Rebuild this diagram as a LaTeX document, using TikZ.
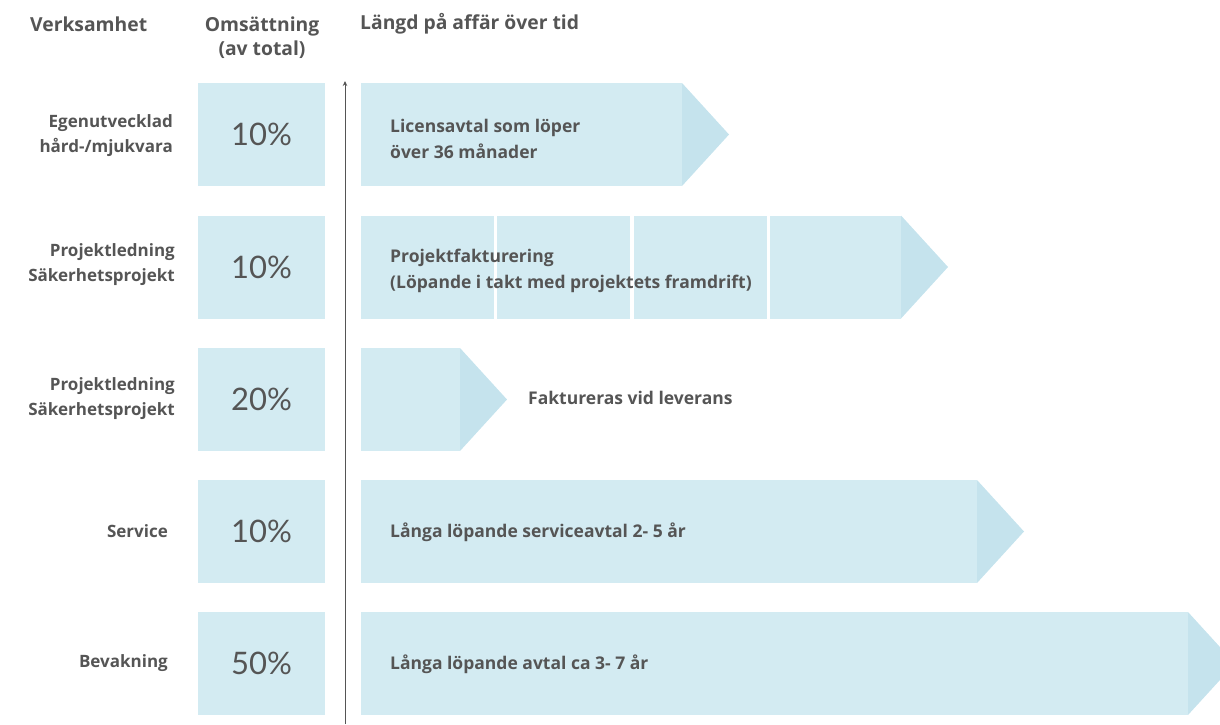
\documentclass[tikz,border=0pt]{standalone}
\usepackage{fontspec}
\setmainfont{Open Sans}
\newfontfamily\pctfont{Lato}
\usetikzlibrary{arrows.meta}
\definecolor{boxc}{HTML}{D3EBF2}
\definecolor{tipc}{HTML}{C5E3ED}
\definecolor{txt}{HTML}{555555}
\newcommand\mybar[3]{% y-center, x-end, name
  \fill[boxc] (361,#1-51.5) rectangle (#2,#1+51.5);
  \fill[tipc] (#2,#1-51.5) -- (#2+47,#1) -- (#2,#1+51.5) -- cycle;
  \coordinate (#3) at (#2,#1);}
\begin{document}
\begin{tikzpicture}[x=1pt,y=-1pt,
  hdr/.style={font=\bfseries\fontsize{19.3}{24}\selectfont, text=txt, inner sep=0pt},
  lbl/.style={font=\bfseries\fontsize{17}{25}\selectfont, text=txt, align=right, anchor=east, inner sep=0pt},
  pct/.style={fill=boxc, minimum width=127pt, minimum height=103pt, text=txt, font=\pctfont\fontsize{31}{31}\selectfont, inner sep=0pt},
  body/.style={font=\bfseries\fontsize{17.5}{26}\selectfont, text=txt, align=left, anchor=west, inner sep=0pt}]
\useasboundingbox (0,0) rectangle (1220,724);
\clip (0,0) rectangle (1220,724);
% headers
\node[hdr, anchor=west] (h1) at (30,24) {Verksamhet};
\node[hdr, align=center] (h2) at (262,38) {Omsättning\\(av total)};
\node[hdr, anchor=west] (h3) at (360,24) {Längd på affär över tid};
% percentage boxes
\node[pct] (p1) at (261.5,134.5) {10\%};
\node[pct] (p2) at (261.5,267) {10\%};
\node[pct] (p3) at (261.5,399.5) {20\%};
\node[pct] (p4) at (261.5,531.5) {10\%};
\node[pct] (p5) at (261.5,663.5) {50\%};
% left labels
\node[lbl] (l1) at (173,135.5) {Egenutvecklad\\hård-/mjukvara};
\node[lbl] (l2) at (175,265) {Projektledning\\Säkerhetsprojekt};
\node[lbl] (l3) at (175,399) {Projektledning\\Säkerhetsprojekt};
\node[lbl] (l4) at (168,531) {Service};
\node[lbl] (l5) at (168,663) {Bevakning};
% bars
\mybar{134.5}{682}{t1}
\mybar{267}{901}{t2}
\fill[white] (493.5,210) rectangle (497,325);
\fill[white] (630,210) rectangle (633.5,325);
\fill[white] (766.5,210) rectangle (770,325);
\mybar{399.5}{460}{t3}
\mybar{531.5}{977}{t4}
\mybar{663.5}{1188}{t5}
% bar texts
\node[body] (b1) at (390,139) {Licensavtal som löper\\över 36 månader};
\node[body] (b2) at (390,271) {Projektfakturering\\(Löpande i takt med projektets framdrift)};
\node[body] (b3) at (528,398) {Faktureras vid leverans};
\node[body] (b4) at (390,532) {Långa löpande serviceavtal 2- 5 år};
\node[body] (b5) at (390,664) {Långa löpande avtal ca 3- 7 år};
% axis
\coordinate (axb) at (345,724);
\coordinate (axt) at (345,81);
\draw[txt, line width=1pt, -{Stealth[length=5pt,width=4.5pt]}] (axb) -- (axt);
\end{tikzpicture}
\end{document}
